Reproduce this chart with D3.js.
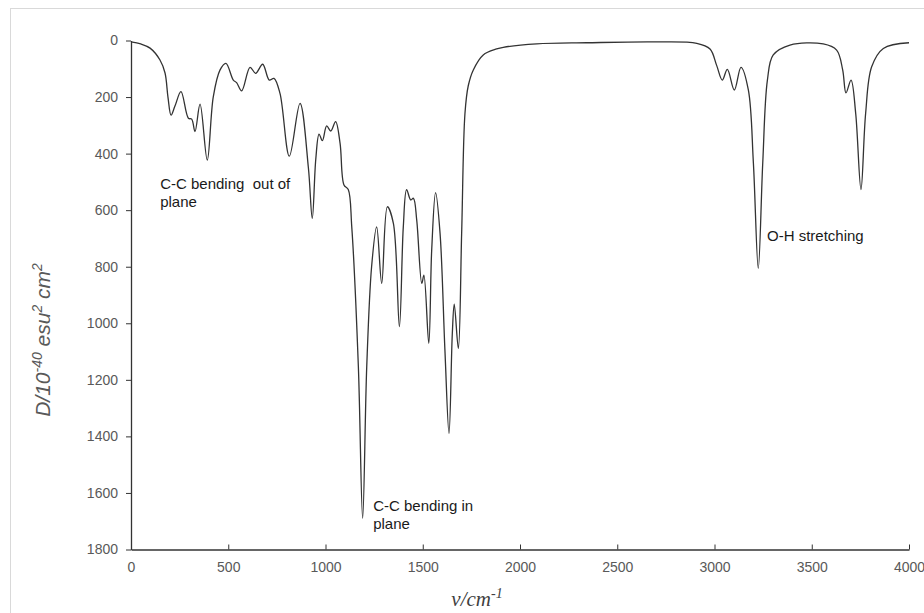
<!DOCTYPE html>
<html>
<head>
<meta charset="utf-8">
<script src="https://cdn.jsdelivr.net/npm/d3@7"></script>
<style>
  body { margin: 0; background: #fff; }
  #chart text { font-family: "Liberation Sans", Arial, sans-serif; }
</style>
</head>
<body>
<div id="chart"></div>
<script>
// Data
const wavenumbers = [
  0, 50, 98, 149, 175, 190, 206, 226, 257, 295, 312, 329, 355, 392, 423, 458,
  488, 526, 543, 569, 612, 641, 677, 711, 735, 766, 814, 869, 912, 932, 950,
  967, 984, 1006, 1027, 1052, 1075, 1095, 1117, 1135, 1169, 1191, 1212, 1237,
  1263, 1289, 1318, 1349, 1380, 1400, 1417, 1438, 1452, 1469, 1495, 1506, 1531,
  1546, 1566, 1589, 1614, 1635, 1652, 1662, 1683, 1700, 1717, 1734, 1760, 1811,
  1880, 1914, 2086, 2343, 2686, 2909, 2977, 3011, 3040, 3066, 3102, 3136, 3174,
  3200, 3225, 3248, 3272, 3302, 3388, 3559, 3628, 3659, 3676, 3702, 3726, 3753,
  3777, 3808, 3868, 4000
];
const intensities = [
  5, 12, 27, 69, 115, 200, 264, 232, 181, 275, 278, 322, 225, 423, 199, 104,
  81, 140, 149, 178, 95, 116, 84, 140, 134, 187, 409, 222, 450, 629, 420,
  331, 354, 302, 320, 287, 364, 511, 527, 659, 1154, 1690, 1154, 800,
  659, 859, 588, 647, 1012, 659, 527, 564, 558, 635, 859, 830, 1071,
  741, 538, 682, 1095, 1390, 1036, 932, 1089, 682, 258, 160, 104, 51,
  30, 24, 12, 8, 5, 10, 30, 88, 140, 102, 175, 95, 175,
  434, 806, 434, 140, 51, 16, 12, 34, 104, 185, 140, 258, 527,
  258, 93, 28, 8
];
const xTicks = [0, 500, 1000, 1500, 2000, 2500, 3000, 3500, 4000];
const yTicks = [0, 200, 400, 600, 800, 1000, 1200, 1400, 1600, 1800];
const annotations = [
  { x: 150, y: 525, lines: ["C-C bending  out of", "plane"] },
  { x: 1245, y: 1665, lines: ["C-C bending in", "plane"] },
  { x: 3270, y: 708, lines: ["O-H stretching"] }
];

const dataset = wavenumbers.map((w, i) => ({ w, d: intensities[i] }));

// Dimensions
const dimensions = {
  width: 924,
  height: 613,
  margin: { top: 40.5, right: 15, bottom: 63.5, left: 131 }
};
dimensions.containerWidth = 909 - dimensions.margin.left;
dimensions.containerHeight = 549.5 - dimensions.margin.top;

const svg = d3
  .select("#chart")
  .append("svg")
  .attr("width", dimensions.width)
  .attr("height", dimensions.height);

// Outer frame
svg
  .append("rect")
  .attr("x", 10.5)
  .attr("y", 8.5)
  .attr("width", 1000)
  .attr("height", 1000)
  .attr("fill", "none")
  .attr("stroke", "#d9d9d9");

const container = svg
  .append("g")
  .attr("transform", `translate(${dimensions.margin.left}, ${dimensions.margin.top})`);

// Scales
const xScale = d3.scaleLinear().domain([0, 4000]).range([0, dimensions.containerWidth]);
const yScale = d3.scaleLinear().domain([0, 1800]).range([0, dimensions.containerHeight]);

// Axes
const xAxis = d3
  .axisBottom(xScale)
  .tickValues(xTicks)
  .tickFormat(d3.format("d"))
  .tickSizeInner(-5)
  .tickSizeOuter(0)
  .tickPadding(13);

const xAxisGroup = container
  .append("g")
  .attr("transform", `translate(0, ${dimensions.containerHeight})`)
  .call(xAxis);

const yAxis = d3
  .axisLeft(yScale)
  .tickValues(yTicks)
  .tickFormat(d3.format("d"))
  .tickSizeInner(5)
  .tickSizeOuter(0)
  .tickPadding(8);

const yAxisGroup = container.append("g").call(yAxis);

[xAxisGroup, yAxisGroup].forEach((g) => {
  g.select(".domain").attr("stroke", "#333").attr("stroke-width", 1.3);
  g.selectAll(".tick line").attr("stroke", "#333");
  g.selectAll(".tick text")
    .attr("fill", "#595959")
    .style("font-size", "14px");
});

// Spectrum line
const line = d3
  .line()
  .x((d) => xScale(d.w))
  .y((d) => yScale(d.d))
  .curve(d3.curveCatmullRom.alpha(0.5));

container
  .append("path")
  .datum(dataset)
  .attr("fill", "none")
  .attr("stroke", "#333")
  .attr("stroke-width", 1.3)
  .attr("d", line);

// Annotations
annotations.forEach((a) => {
  const t = container
    .append("text")
    .attr("x", xScale(a.x))
    .attr("y", yScale(a.y))
    .attr("fill", "#1a1a1a")
    .style("font-size", "15px")
    .style("white-space", "pre");
  a.lines.forEach((l, i) => {
    t.append("tspan")
      .attr("x", xScale(a.x))
      .attr("dy", i === 0 ? 0 : 18)
      .text(l);
  });
});

// Y axis title
const yTitle = svg
  .append("text")
  .attr("transform", "translate(50, 340) rotate(-90)")
  .attr("text-anchor", "middle")
  .attr("fill", "#595959")
  .style("font-size", "21px")
  .style("font-style", "italic");
yTitle.append("tspan").text("D/10");
yTitle.append("tspan").attr("dy", -8).style("font-size", "14px").text("-40");
yTitle.append("tspan").attr("dy", 8).text(" esu");
yTitle.append("tspan").attr("dy", -8).style("font-size", "14px").text("2");
yTitle.append("tspan").attr("dy", 8).text(" cm");
yTitle.append("tspan").attr("dy", -8).style("font-size", "14px").text("2");

// X axis title
const xTitle = svg
  .append("text")
  .attr("x", 477)
  .attr("y", 606)
  .attr("text-anchor", "middle")
  .attr("fill", "#404040")
  .style("font-family", "'Liberation Serif', 'Times New Roman', serif")
  .style("font-size", "21px")
  .style("font-style", "italic");
xTitle.append("tspan").text("ν/cm");
xTitle.append("tspan").attr("dy", -8).style("font-size", "14px").text("-1");
</script>
</body>
</html>
